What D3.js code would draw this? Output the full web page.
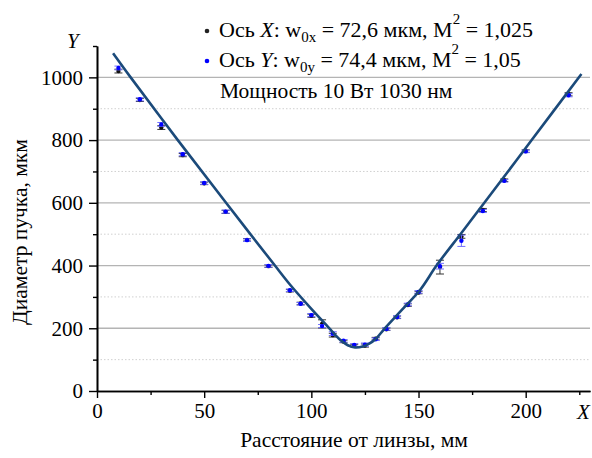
<!DOCTYPE html>
<html>
<head>
<meta charset="utf-8">
<script src="https://cdn.jsdelivr.net/npm/d3@7"></script>
<style>
  body { margin: 0; background: #fff; }
  svg { display: block; }
  svg text { font-family: "Liberation Serif", "Times New Roman", serif; }
</style>
</head>
<body>
<svg id="chart" width="592" height="458"></svg>
<script>
// расстояние от линзы, мм
var zPos = [10, 20, 30, 40, 50, 60, 70, 80, 90, 95, 100, 105, 110, 115, 120, 125, 130, 135, 140, 145, 150, 160, 170, 180, 190, 200, 220];
// ось X (чёрные точки)
var diamX = [1020, 928, 840, 752, 662, 571, 482, 398, 320, 279, 240, 214, 178, 158, 145, 145, 167, 197, 235, 274, 314, 395, 493, 577, 672, 765, 946];
var errX  = [6, 5, 6, 5, 4, 5, 4, 4, 4, 4, 5, 13, 6, 4, 4, 5, 4, 4, 4, 4, 4, 22, 6, 5, 4, 4, 5];
// ось Y (синие точки)
var diamY = [1030, 930, 850, 755, 663, 572, 481, 399, 321, 278, 242, 207, 183, 160, 147, 148, 165, 198, 236, 276, 316, 398, 479, 574, 670, 764, 943];
var errY  = [6, 5, 6, 5, 4, 5, 4, 4, 4, 4, 5, 5, 6, 4, 4, 5, 4, 4, 4, 4, 4, 9, 18, 5, 4, 4, 5];
// аппроксимирующая кривая
var fitZ = [7.5, 15.7, 37.7, 60.2, 83, 90.2, 100, 108.4, 111, 114, 117, 120.4, 124, 127, 130, 134.3, 142, 150.7, 158.4, 170, 180.7, 202.8, 226];
var fitD = [1077, 1000, 800, 600, 400, 338, 262, 200, 180, 160, 146, 139, 142, 151, 166, 200, 257, 322, 400, 504, 600, 800, 1011];

var xMajor = [0, 50, 100, 150, 200];
var xMinor = [25, 75, 125, 175, 225];
var yMajor = [0, 200, 400, 600, 800, 1000];
var yMinor = [100, 300, 500, 700, 900, 1100];

var FS = "21px";
var svg = d3.select("#chart");
var x = d3.scaleLinear().domain([0, 230]).range([97, 590]);
var y = d3.scaleLinear().domain([0, 1100]).range([391, 46]);

// сетка
svg.append("g").selectAll("line")
    .data(yMajor.slice(1))
    .enter().append("line")
    .attr("x1", x(0)).attr("x2", x(230))
    .attr("y1", d => y(d)).attr("y2", d => y(d))
    .attr("stroke", "#b4b4b4").attr("stroke-width", 1.3);

svg.append("g").selectAll("line")
    .data(yMinor.slice(0, 5))
    .enter().append("line")
    .attr("x1", x(0)).attr("x2", x(230))
    .attr("y1", d => y(d)).attr("y2", d => y(d))
    .attr("stroke", "#d0d0d0").attr("stroke-width", 1)
    .attr("stroke-dasharray", "1.5,2");

// оси
var xAxis = svg.append("g").attr("transform", "translate(0," + y(0) + ")");
xAxis.call(d3.axisBottom(x).tickValues(xMajor).tickSize(7).tickSizeOuter(0).tickPadding(5).tickFormat(d3.format("d")));
xAxis.append("g").call(d3.axisBottom(x).tickValues(xMinor).tickSize(4).tickSizeOuter(0).tickFormat(""));

var yAxis = svg.append("g").attr("transform", "translate(" + x(0) + ",0)");
yAxis.call(d3.axisLeft(y).tickValues(yMajor).tickSize(8).tickSizeOuter(0).tickPadding(6).tickFormat(d3.format("d")));
yAxis.append("g").call(d3.axisLeft(y).tickValues(yMinor).tickSize(4).tickSizeOuter(0).tickFormat(""));

xAxis.attr("font-family", "Liberation Serif").attr("font-size", FS);
yAxis.attr("font-family", "Liberation Serif").attr("font-size", FS);
svg.selectAll(".domain").attr("stroke", "#000").attr("stroke-width", 1.6);
svg.selectAll(".tick line").attr("stroke", "#000").attr("stroke-width", 1.4);
svg.selectAll(".tick text").attr("fill", "#000");

// подписи осей
svg.append("text")
    .attr("x", 354).attr("y", 447)
    .attr("text-anchor", "middle")
    .style("font-size", "21.5px")
    .text("Расстояние от линзы, мм");

svg.append("text")
    .attr("transform", "translate(27,232) rotate(-90)")
    .attr("text-anchor", "middle")
    .style("font-size", "21.5px")
    .text("Диаметр пучка, мкм");

svg.append("text")
    .attr("x", 67).attr("y", 48)
    .style("font-size", FS).style("font-style", "italic")
    .text("Y");

svg.append("text")
    .attr("x", 577).attr("y", 419)
    .style("font-size", FS).style("font-style", "italic")
    .text("X");

// точки с погрешностями
function drawSeries(vals, errs, barColor, dotColor) {
    var g = svg.append("g");
    var pts = zPos.map((z, i) => ({ z: z, v: vals[i], e: errs[i] }));
    g.selectAll(".bar").data(pts).enter().append("line")
        .attr("x1", d => x(d.z)).attr("x2", d => x(d.z))
        .attr("y1", d => y(d.v - d.e)).attr("y2", d => y(d.v + d.e))
        .attr("stroke", barColor).attr("stroke-width", 1);
    [-1, 1].forEach(function (s) {
        g.selectAll(".cap" + s).data(pts).enter().append("line")
            .attr("x1", d => x(d.z) - 4).attr("x2", d => x(d.z) + 4)
            .attr("y1", d => y(d.v + s * d.e)).attr("y2", d => y(d.v + s * d.e))
            .attr("stroke", barColor).attr("stroke-width", 1);
    });
    g.selectAll("circle").data(pts).enter().append("circle")
        .attr("cx", d => x(d.z)).attr("cy", d => y(d.v))
        .attr("r", 2.2).attr("fill", dotColor);
}
drawSeries(diamX, errX, "#333", "#111");
drawSeries(diamY, errY, "#7070ff", "#0000ff");

// кривая
var fitPts = fitZ.map((z, i) => [z, fitD[i]]);
svg.append("path")
    .datum(fitPts)
    .attr("fill", "none")
    .attr("stroke", "#1b4a7a")
    .attr("stroke-width", 2.6)
    .attr("d", d3.line().x(d => x(d[0])).y(d => y(d[1])).curve(d3.curveCatmullRom));

// легенда
function legendLine(yy, dotColor, axisName, sub, w0, m2) {
    svg.append("circle").attr("cx", 207).attr("cy", yy - 6).attr("r", 2.3).attr("fill", dotColor);
    var t = svg.append("text").attr("x", 219).attr("y", yy).style("font-size", "22px");
    t.append("tspan").text("Ось ");
    t.append("tspan").style("font-style", "italic").text(axisName);
    t.append("tspan").text(": w");
    t.append("tspan").attr("dy", 5).style("font-size", "15px").text(sub);
    t.append("tspan").attr("dy", -5).text(" = " + w0 + " мкм, M");
    t.append("tspan").attr("dy", -13).style("font-size", "15px").text("2");
    t.append("tspan").attr("dy", 13).text(" = " + m2);
}
legendLine(37, "#222", "X", "0x", "72,6", "1,025");
legendLine(67, "#0000ff", "Y", "0y", "74,4", "1,05");

svg.append("text")
    .attr("x", 220).attr("y", 98)
    .style("font-size", "21.5px")
    .text("Мощность 10 Вт 1030 нм");
</script>
</body>
</html>
